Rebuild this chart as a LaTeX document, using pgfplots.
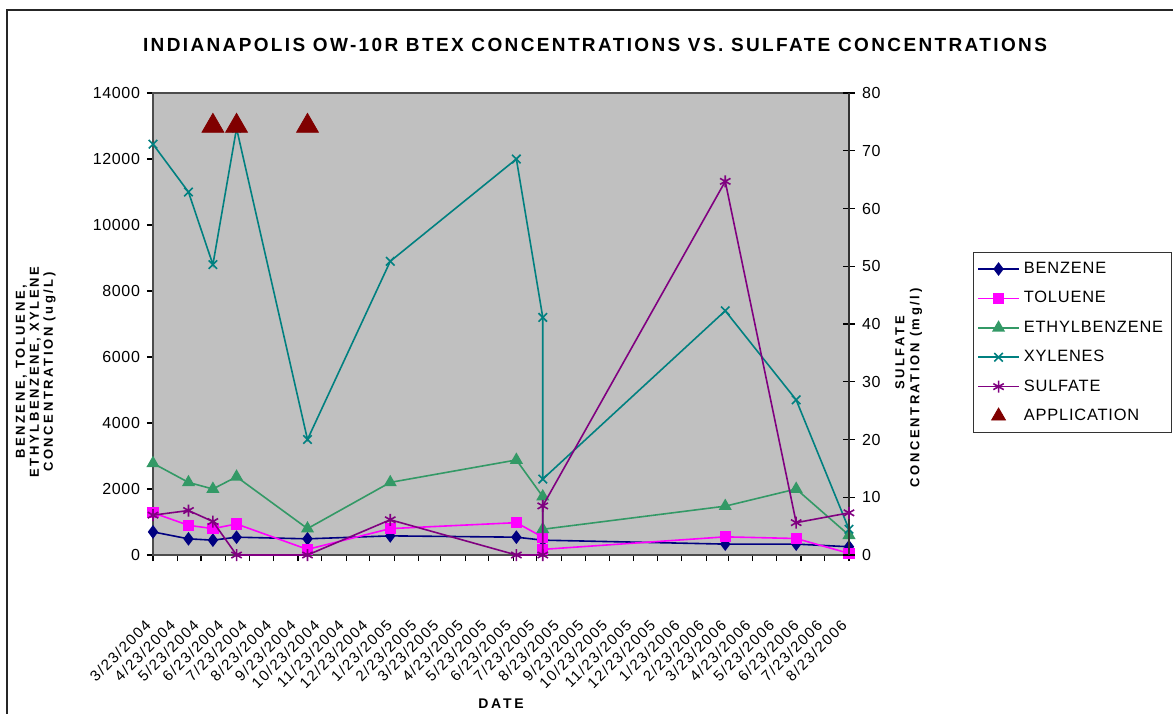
\documentclass[border=0pt]{standalone}
\usepackage{fontspec}
\setmainfont{Liberation Sans}
\usepackage{pgfplots}
\pgfplotsset{compat=1.18}

\definecolor{plotbg}{RGB}{192,192,192}
\definecolor{benz}{RGB}{0,0,128}
\definecolor{tolu}{RGB}{255,0,255}
\definecolor{ethyl}{RGB}{51,153,102}
\definecolor{xyl}{RGB}{0,128,128}
\definecolor{sulf}{RGB}{128,0,128}
\definecolor{appl}{RGB}{128,0,0}

\pgfplotsset{
  benzst/.style={color=benz, line width=0.8pt, mark=diamond*, mark size=2.8pt, mark options={solid}},
  tolust/.style={color=tolu, line width=0.8pt, mark=square*, mark size=2.4pt, mark options={solid}},
  ethylst/.style={color=ethyl, line width=0.8pt, mark=triangle*, mark size=3pt, mark options={solid}},
  xylst/.style={color=xyl, line width=0.8pt, mark=x, mark size=3pt, mark options={solid}},
  sulfst/.style={color=sulf, line width=0.8pt, mark=asterisk, mark size=3pt, mark options={solid}},
  common/.style={
    at={(0pt,0pt)}, anchor=south west,
    width=348pt, height=231pt, scale only axis,
    xmin=0, xmax=883, clip=false,
    scaled y ticks=false,
    /pgf/number format/assume math mode=true,
    /pgf/number format/1000 sep={},
    tick label style={font=\fontsize{8}{9}\selectfont\addfontfeature{LetterSpace=4}},
  },
}

\begin{document}
\begin{tikzpicture}
\useasboundingbox (-76.5pt,-79pt) rectangle (510pt,277.5pt);
\draw[black!85, line width=1pt] (-73pt,-120pt) -- (-73pt,272.5pt) -- (620pt,272.5pt);

\begin{axis}[
  common,
  ymin=0, ymax=14000,
  axis background/.style={fill=plotbg},
  axis line style={black!70, line width=0.9pt},
  xtick pos=bottom, ytick pos=left,
  tick align=outside, major tick length=3pt,
  tick style={black, line width=0.6pt},
  ytick={0,2000,...,14000},
  xtick={0,31,61,92,122,153,184,214,245,275,306,337,365,396,426,457,487,518,549,579,610,640,671,702,730,761,791,822,852,883},
  xticklabels={3/23/2004,4/23/2004,5/23/2004,6/23/2004,7/23/2004,8/23/2004,9/23/2004,10/23/2004,11/23/2004,12/23/2004,1/23/2005,2/23/2005,3/23/2005,4/23/2005,5/23/2005,6/23/2005,7/23/2005,8/23/2005,9/23/2005,10/23/2005,11/23/2005,12/23/2005,1/23/2006,2/23/2006,3/23/2006,4/23/2006,5/23/2006,6/23/2006,7/23/2006,8/23/2006},
  xticklabel style={font=\fontsize{7.5}{9}\selectfont\addfontfeature{LetterSpace=10}, rotate=45, anchor=east},
  xticklabel shift=28.5pt,
]
\addplot[benzst] coordinates {(0,700) (45,490) (76,450) (106,540) (196,490) (301,580) (461,540) (494.5,450) (726,330) (816,330) (883,250)};
\addplot[tolust] coordinates {(0,1280) (45,900) (76,800) (106,940) (196,170) (301,800) (461,980) (494.5,540) (494.5,170) (726,550) (816,500) (883,50)};
\addplot[ethylst] coordinates {(0,2780) (45,2200) (76,2000) (106,2370) (196,800) (301,2200) (461,2880) (494.5,1770) (494.5,780) (726,1480) (816,2000) (883,600)};
\addplot[xylst] coordinates {(0,12450) (45,11000) (76,8800) (106,12930) (196,3500) (301,8900) (461,12000) (494.5,7200) (494.5,2300) (726,7400) (816,4700) (883,780)};
\addplot[only marks, mark=triangle*, mark size=6.3pt, color=appl] coordinates {(76,13000) (106,13000) (196,13000)};
\end{axis}

\begin{axis}[
  common,
  ymin=0, ymax=80,
  axis x line=none, axis y line*=right,
  axis line style={black!80, line width=0.9pt},
  tick align=center, major tick length=6pt,
  tick style={black, line width=0.6pt},
  ytick={0,10,...,80},
  legend style={at={(1.178,0.656)}, anchor=north west, draw=black!80, fill=white,
    font=\fontsize{8.2}{10}\selectfont\addfontfeature{LetterSpace=5},
    inner xsep=2pt, inner ysep=1pt, row sep=0pt,
    nodes={inner ysep=0pt, text height=9.6pt, text depth=5.1pt}},
  legend cell align=left,
  legend image code/.code={\draw[mark repeat=2,mark phase=2] plot coordinates {(0cm,0cm) (0.36cm,0cm) (0.72cm,0cm)};},
]
\addlegendimage{benzst}\addlegendentry{BENZENE}
\addlegendimage{tolust}\addlegendentry{TOLUENE}
\addlegendimage{ethylst}\addlegendentry{ETHYLBENZENE}
\addlegendimage{xylst}\addlegendentry{XYLENES}
\addplot[sulfst] coordinates {(0,6.9) (45,7.7) (76,5.8) (106,0) (196,0) (301,6.1) (461,0) (494.5,0) (494.5,8.5) (726,64.7) (816,5.6) (883,7.3)};
\addlegendentry{SULFATE}
\addlegendimage{only marks, mark=triangle*, mark size=4pt, color=appl}\addlegendentry{APPLICATION}
\end{axis}

\node[font=\fontsize{9.5}{11}\selectfont\bfseries\addfontfeature{LetterSpace=12.5}] at (221pt,255pt) {INDIANAPOLIS OW-10R BTEX CONCENTRATIONS VS. SULFATE CONCENTRATIONS};
\node[rotate=90, align=center, font=\fontsize{6.5}{7}\selectfont\bfseries\addfontfeature{LetterSpace=20}] at (-58.7pt,91.5pt) {BENZENE, TOLUENE,\\ETHYLBENZENE, XYLENE\\CONCENTRATION (ug/L)};
\node[rotate=90, font=\fontsize{6.5}{7}\selectfont\bfseries\addfontfeature{LetterSpace=20}] at (373.5pt,101pt) {SULFATE};
\node[rotate=90, font=\fontsize{6.5}{7}\selectfont\bfseries\addfontfeature{LetterSpace=20}] at (381.5pt,83.5pt) {CONCENTRATION (mg/l)};
\node[font=\fontsize{7}{8}\selectfont\bfseries\addfontfeature{LetterSpace=20}] at (174pt,-74.5pt) {DATE};
\end{tikzpicture}
\end{document}
